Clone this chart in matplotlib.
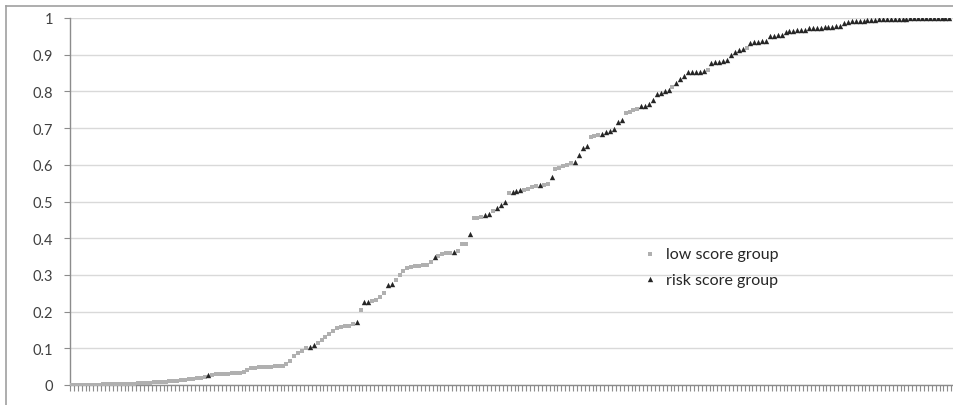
import matplotlib
matplotlib.use("Agg")
import matplotlib.pyplot as plt
from matplotlib.lines import Line2D

plt.rcParams['font.family'] = ['Lato', 'DejaVu Sans']

# cumulative share per case, in rank order
cum_share = [
    0.000, 0.000, 0.000, 0.000, 0.001, 0.001, 0.001, 0.001, 0.002, 0.002,
    0.002, 0.003, 0.003, 0.003, 0.004, 0.004, 0.004, 0.005, 0.005, 0.006,
    0.006, 0.007, 0.008, 0.008, 0.009, 0.010, 0.011, 0.012, 0.013, 0.014,
    0.016, 0.017, 0.018, 0.020, 0.021, 0.027, 0.028, 0.029, 0.030, 0.030,
    0.031, 0.032, 0.033, 0.034, 0.036, 0.040, 0.045, 0.047, 0.048, 0.048,
    0.049, 0.050, 0.051, 0.052, 0.053, 0.058, 0.066, 0.080, 0.088, 0.093,
    0.100, 0.104, 0.108, 0.115, 0.122, 0.130, 0.140, 0.148, 0.156, 0.158,
    0.160, 0.162, 0.165, 0.171, 0.205, 0.226, 0.227, 0.230, 0.232, 0.240,
    0.250, 0.272, 0.274, 0.287, 0.300, 0.310, 0.320, 0.322, 0.324, 0.325,
    0.326, 0.328, 0.335, 0.349, 0.352, 0.358, 0.360, 0.361, 0.363, 0.366,
    0.383, 0.385, 0.411, 0.455, 0.456, 0.458, 0.463, 0.466, 0.475, 0.482,
    0.490, 0.500, 0.522, 0.526, 0.528, 0.530, 0.532, 0.534, 0.540, 0.543,
    0.544, 0.546, 0.548, 0.566, 0.589, 0.592, 0.596, 0.600, 0.604, 0.607,
    0.627, 0.646, 0.650, 0.676, 0.679, 0.682, 0.685, 0.689, 0.693, 0.698,
    0.716, 0.721, 0.740, 0.745, 0.749, 0.753, 0.760, 0.761, 0.765, 0.777,
    0.793, 0.797, 0.801, 0.805, 0.812, 0.824, 0.833, 0.843, 0.852, 0.852,
    0.853, 0.854, 0.856, 0.859, 0.877, 0.879, 0.881, 0.883, 0.886, 0.900,
    0.906, 0.912, 0.915, 0.918, 0.932, 0.934, 0.935, 0.937, 0.938, 0.950,
    0.952, 0.953, 0.955, 0.962, 0.965, 0.965, 0.966, 0.967, 0.968, 0.972,
    0.973, 0.973, 0.974, 0.975, 0.975, 0.976, 0.977, 0.978, 0.986, 0.989,
    0.991, 0.992, 0.993, 0.993, 0.994, 0.995, 0.995, 0.996, 0.997, 0.997,
    0.997, 0.998, 0.998, 0.998, 0.998, 0.999, 0.999, 0.999, 0.999, 0.999,
    1.000, 1.000, 1.000, 1.000, 1.000, 1.000,
]

# positions (rank) that belong to the risk score group, the rest are low score
risk_ranks = ([35, 61, 62, 73, 75, 76, 81, 82, 93, 98, 102, 106, 107, 109, 110, 111,
               113, 114, 115, 120, 123, 129, 130, 131, 132]
              + list(range(136, 142)) + list(range(146, 154)) + list(range(155, 163))
              + list(range(164, 173)) + list(range(174, 226)))

y_ticks = [0, 0.1, 0.2, 0.3, 0.4, 0.5, 0.6, 0.7, 0.8, 0.9, 1]
y_labels = ['0', '0.1', '0.2', '0.3', '0.4', '0.5', '0.6', '0.7', '0.8', '0.9', '1']

ranks = list(range(len(cum_share)))
risk_set = set(risk_ranks)
low_x = [i for i in ranks if i not in risk_set]
low_y = [cum_share[i] for i in low_x]
risk_x = [i for i in ranks if i in risk_set]
risk_y = [cum_share[i] for i in risk_x]

fig = plt.figure(figsize=(9.54, 4.06), dpi=100)
ax = fig.add_axes([70 / 954, 20 / 406, 884 / 954, 367 / 406])

ax.scatter(low_x, low_y, marker='s', s=9, color='#b0b0b0', linewidths=0,
           label='low score group', zorder=3)
ax.scatter(risk_x, risk_y, marker='^', s=15, color='#262626', linewidths=0,
           label='risk score group', zorder=4)

ax.set_xlim(-0.5, 226.2)
ax.set_ylim(0, 1)
ax.set_yticks(y_ticks)
ax.set_yticklabels(y_labels)
ax.set_xticks([i - 0.5 for i in range(len(cum_share) + 1)])
ax.set_xticklabels([])

ax.grid(axis='y', color='#d9d9d9', linewidth=1)
ax.set_axisbelow(True)
for side in ['top', 'right']:
    ax.spines[side].set_visible(False)
for side in ['left', 'bottom']:
    ax.spines[side].set_color('#8c8c8c')
    ax.spines[side].set_linewidth(1)
ax.tick_params(axis='y', direction='out', length=4, color='#8c8c8c',
               labelsize=10.5, labelcolor='#404040', pad=8)
ax.tick_params(axis='x', direction='out', length=4, width=0.8, color='#8c8c8c')

ax.legend(loc='upper left', bbox_to_anchor=(0.631, 0.415), frameon=False,
          fontsize=11.5, handlelength=1.0, handletextpad=0.5, labelspacing=0.7,
          markerscale=1.0, labelcolor='#262626')

# outer chart border (clipped at right and bottom)
fig.add_artist(Line2D([6 / 954, 6 / 954], [0, 1 - 7 / 406], transform=fig.transFigure,
                      color='#a0a0a0', linewidth=1.2))
fig.add_artist(Line2D([6 / 954, 1], [1 - 7 / 406, 1 - 7 / 406], transform=fig.transFigure,
                      color='#a0a0a0', linewidth=1.2))

fig.savefig('out.png', dpi=100)
